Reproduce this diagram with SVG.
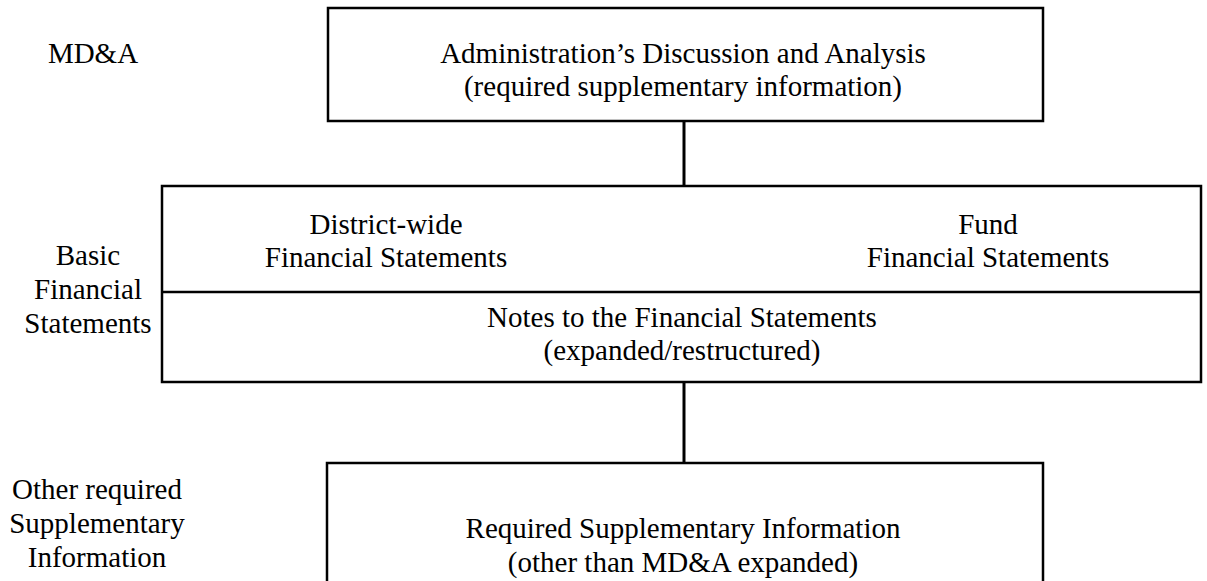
<svg xmlns="http://www.w3.org/2000/svg" width="1207" height="581" viewBox="0 0 1207 581">
<style>
text{font-family:"Liberation Serif","Times New Roman",serif;font-size:29px;fill:#000;text-anchor:middle}
.box{fill:#fff;stroke:#000;stroke-width:2.5}
.conn{stroke:#000;stroke-width:3;fill:none}
</style>
<rect width="1207" height="581" fill="#fff"/>
<g id="labels">
<text x="93" y="63">MD&amp;A</text>
<text x="88" y="265">Basic</text>
<text x="88" y="299">Financial</text>
<text x="88" y="333">Statements</text>
<text x="97" y="499">Other required</text>
<text x="97" y="533">Supplementary</text>
<text x="97" y="567">Information</text>
</g>
<g id="connectors">
<line class="conn" x1="684" y1="121" x2="684" y2="186"/>
<line class="conn" x1="684" y1="382" x2="684" y2="463"/>
</g>
<g id="mda">
<rect class="box" x="328" y="8" width="715" height="113"/>
<text x="683" y="63">Administration’s Discussion and Analysis</text>
<text x="683" y="96">(required supplementary information)</text>
</g>
<g id="basic">
<rect class="box" x="162" y="186" width="1039" height="196"/>
<line class="box" x1="162" y1="292" x2="1201" y2="292"/>
<text x="386" y="234">District-wide</text>
<text x="386" y="267">Financial Statements</text>
<text x="988" y="234">Fund</text>
<text x="988" y="267">Financial Statements</text>
<text x="682" y="327">Notes to the Financial Statements</text>
<text x="682" y="360">(expanded/restructured)</text>
</g>
<g id="rsi">
<rect class="box" x="327" y="463" width="716" height="140"/>
<text x="683" y="538">Required Supplementary Information</text>
<text x="683" y="572">(other than MD&amp;A expanded)</text>
</g>
</svg>
